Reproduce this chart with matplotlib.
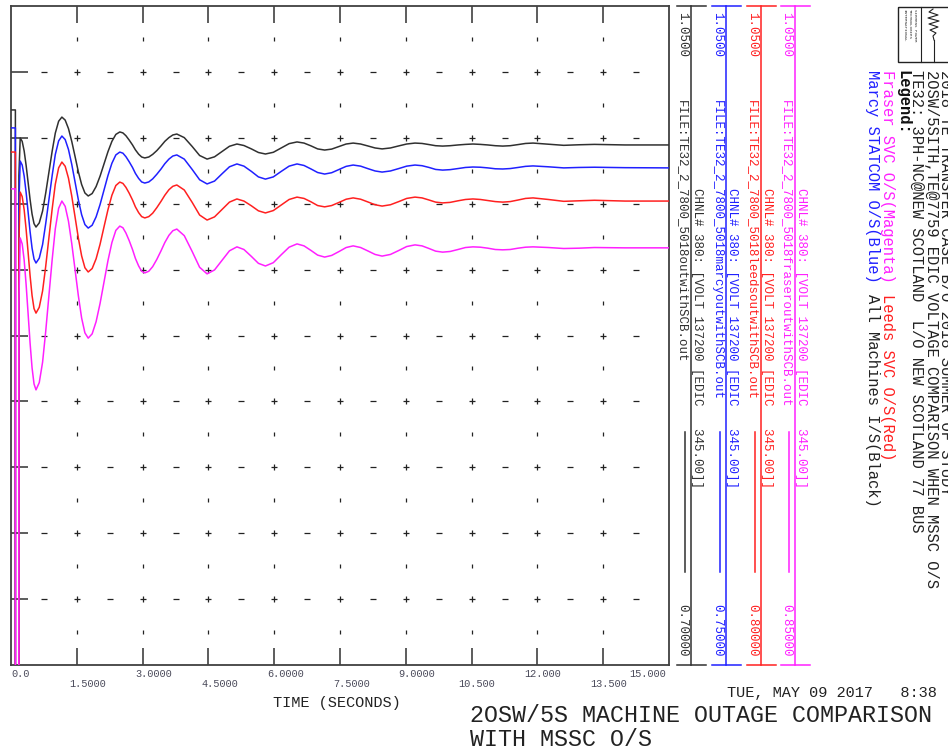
import matplotlib
matplotlib.use("Agg")
import matplotlib.pyplot as plt
import numpy as np

plt.rcParams['font.family'] = ['Liberation Mono', 'DejaVu Sans Mono']

# --- channel data (VOLT 137200 [EDIC 345.00], pu) ---
time_s = [0.0, 0.1, 0.1, 0.175, 0.18,
          0.21, 0.255, 0.30, 0.345, 0.39, 0.435, 0.48, 0.525,
          0.57, 0.644, 0.72, 0.791, 0.865, 0.939, 1.01, 1.086,
          1.16, 1.235, 1.31, 1.385, 1.46, 1.535, 1.61, 1.685,
          1.76, 1.85, 1.94, 2.03, 2.12, 2.21, 2.30, 2.39,
          2.48, 2.551, 2.62, 2.694, 2.77, 2.836, 2.91, 2.979,
          3.05, 3.141, 3.23, 3.324, 3.42, 3.506, 3.60, 3.689,
          3.78, 3.95, 4.13, 4.30,
          4.47, 4.64, 4.81, 4.98,
          5.15, 5.31, 5.48, 5.64,
          5.80, 5.98, 6.16, 6.34,
          6.52, 6.68, 6.84, 6.99,
          7.15, 7.31, 7.48, 7.64,
          7.80, 7.97, 8.13, 8.30,
          8.46, 8.65, 8.84, 9.02,
          9.21, 9.37, 9.53, 9.68,
          9.84, 10.01, 10.19, 10.36,
          10.53, 10.70, 10.87, 11.04,
          11.21, 11.38, 11.56, 11.73,
          11.90, 12.25, 12.6, 12.95, 13.3, 14.0, 15.0]

volt_all_is = [0.9948, 0.9948, 0.50, 0.50, 0.960,
               0.9799, 0.9781, 0.9730, 0.9653, 0.9563, 0.9472, 0.9395, 0.9344,
               0.9326, 0.9348, 0.9411, 0.9506, 0.9618, 0.9730, 0.9825, 0.9888,
               0.9910, 0.9894, 0.9849, 0.9781, 0.9701, 0.9620, 0.9552, 0.9507,
               0.9491, 0.9504, 0.9541, 0.9596, 0.9661, 0.9726, 0.9781, 0.9818,
               0.9831, 0.9826, 0.9811, 0.9788, 0.9762, 0.9736, 0.9713, 0.9698,
               0.9693, 0.9698, 0.9712, 0.9732, 0.9757, 0.9781, 0.9801, 0.9815,
               0.9820, 0.9801, 0.9754, 0.9706,
               0.9687, 0.9699, 0.9727, 0.9755,
               0.9767, 0.9759, 0.9741, 0.9722,
               0.9714, 0.9723, 0.9746, 0.9769,
               0.9778, 0.9772, 0.9757, 0.9741,
               0.9735, 0.9740, 0.9754, 0.9767,
               0.9772, 0.9767, 0.9757, 0.9746,
               0.9741, 0.9746, 0.9757, 0.9767,
               0.9772, 0.9770, 0.9764, 0.9758,
               0.9756, 0.9758, 0.9762, 0.9765,
               0.9767, 0.9765, 0.9762, 0.9758,
               0.9756, 0.9758, 0.9764, 0.9770,
               0.9772, 0.9766, 0.9760, 0.9763, 0.9765, 0.9762, 0.9762]

volt_marcy_os = [0.9945, 0.9945, 0.50, 0.50, 0.960,
                 0.9794, 0.9776, 0.9726, 0.9651, 0.9562, 0.9473, 0.9398, 0.9348,
                 0.9330, 0.9352, 0.9414, 0.9509, 0.9619, 0.9729, 0.9824, 0.9886,
                 0.9908, 0.9892, 0.9847, 0.9779, 0.9699, 0.9618, 0.9550, 0.9505,
                 0.9489, 0.9502, 0.9540, 0.9596, 0.9662, 0.9728, 0.9784, 0.9822,
                 0.9835, 0.9830, 0.9814, 0.9791, 0.9765, 0.9738, 0.9715, 0.9699,
                 0.9694, 0.9699, 0.9713, 0.9734, 0.9758, 0.9782, 0.9803, 0.9817,
                 0.9822, 0.9803, 0.9756, 0.9709,
                 0.9690, 0.9703, 0.9736, 0.9768,
                 0.9781, 0.9771, 0.9747, 0.9722,
                 0.9712, 0.9722, 0.9747, 0.9771,
                 0.9781, 0.9774, 0.9758, 0.9742,
                 0.9735, 0.9741, 0.9756, 0.9770,
                 0.9776, 0.9771, 0.9760, 0.9749,
                 0.9744, 0.9749, 0.9760, 0.9771,
                 0.9776, 0.9773, 0.9765, 0.9756,
                 0.9753, 0.9755, 0.9760, 0.9765,
                 0.9767, 0.9766, 0.9763, 0.9759,
                 0.9758, 0.9760, 0.9765, 0.9770,
                 0.9772, 0.9768, 0.9763, 0.9765, 0.9766, 0.9764, 0.9763]

volt_leeds_os = [0.9946, 0.9946, 0.50, 0.50, 0.960,
                 0.9794, 0.9777, 0.9727, 0.9652, 0.9565, 0.9477, 0.9402, 0.9352,
                 0.9335, 0.9357, 0.9419, 0.9512, 0.9622, 0.9731, 0.9824, 0.9886,
                 0.9908, 0.9892, 0.9847, 0.9779, 0.9700, 0.9620, 0.9552, 0.9507,
                 0.9491, 0.9504, 0.9541, 0.9596, 0.9662, 0.9727, 0.9782, 0.9819,
                 0.9832, 0.9827, 0.9812, 0.9790, 0.9764, 0.9738, 0.9716, 0.9701,
                 0.9696, 0.9701, 0.9714, 0.9735, 0.9759, 0.9782, 0.9803, 0.9816,
                 0.9821, 0.9802, 0.9755, 0.9707,
                 0.9688, 0.9700, 0.9728, 0.9756,
                 0.9768, 0.9760, 0.9742, 0.9723,
                 0.9715, 0.9724, 0.9745, 0.9766,
                 0.9775, 0.9770, 0.9757, 0.9743,
                 0.9738, 0.9743, 0.9755, 0.9767,
                 0.9772, 0.9767, 0.9757, 0.9746,
                 0.9741, 0.9746, 0.9758, 0.9770,
                 0.9775, 0.9772, 0.9764, 0.9756,
                 0.9753, 0.9755, 0.9761, 0.9766,
                 0.9768, 0.9766, 0.9762, 0.9758,
                 0.9756, 0.9758, 0.9764, 0.9770,
                 0.9772, 0.9766, 0.9759, 0.9761, 0.9763, 0.9760, 0.9760]

volt_fraser_os = [0.9945, 0.9945, 0.50, 0.50, 0.960,
                  0.9796, 0.9778, 0.9729, 0.9654, 0.9566, 0.9477, 0.9402, 0.9353,
                  0.9335, 0.9357, 0.9419, 0.9512, 0.9622, 0.9731, 0.9824, 0.9886,
                  0.9908, 0.9892, 0.9847, 0.9779, 0.9700, 0.9621, 0.9553, 0.9508,
                  0.9492, 0.9505, 0.9542, 0.9597, 0.9662, 0.9727, 0.9782, 0.9819,
                  0.9832, 0.9827, 0.9811, 0.9788, 0.9761, 0.9734, 0.9711, 0.9695,
                  0.9690, 0.9695, 0.9709, 0.9731, 0.9757, 0.9782, 0.9804, 0.9818,
                  0.9823, 0.9803, 0.9755, 0.9707,
                  0.9687, 0.9699, 0.9728, 0.9757,
                  0.9769, 0.9761, 0.9740, 0.9719,
                  0.9711, 0.9721, 0.9745, 0.9768,
                  0.9778, 0.9772, 0.9758, 0.9744,
                  0.9738, 0.9743, 0.9755, 0.9767,
                  0.9772, 0.9767, 0.9757, 0.9746,
                  0.9741, 0.9746, 0.9758, 0.9770,
                  0.9775, 0.9772, 0.9764, 0.9756,
                  0.9753, 0.9755, 0.9761, 0.9767,
                  0.9769, 0.9768, 0.9765, 0.9761,
                  0.9760, 0.9761, 0.9765, 0.9768,
                  0.9769, 0.9767, 0.9764, 0.9765, 0.9767, 0.9766, 0.9766]

scale_top = 1.05
scale_bottoms = [0.70, 0.75, 0.80, 0.85]
top_labels = ['1.0500', '1.0500', '1.0500', '1.0500']
bottom_labels = ['0.70000', '0.75000', '0.80000', '0.85000']
file_names = ['FILE:TE32_2_7800_5018outwithSCB.out',
              'FILE:TE32_2_7800_5018marcyoutwithSCB.out',
              'FILE:TE32_2_7800_5018leedsoutwithSCB.out',
              'FILE:TE32_2_7800_5018fraseroutwithSCB.out']
chnl_label = 'CHNL# 380: [VOLT 137200 [EDIC   345.00]]'
series = [volt_all_is, volt_marcy_os, volt_leeds_os, volt_fraser_os]
colors = ['#303030', '#2020ff', '#ff2020', '#ff20ff']

x_tick_labels = ['0.0', '1.5000', '3.0000', '4.5000', '6.0000', '7.5000',
                 '9.0000', '10.500', '12.000', '13.500', '15.000']

W, H = 948, 750
fig = plt.figure(figsize=(W / 100, H / 100), dpi=100)

# plot box in pixels
L, R, T, B = 11, 669, 6, 665
ax = fig.add_axes([L / W, 1 - B / H, (R - L) / W, (B - T) / H])
ax.set_xlim(0, 15)
ax.set_ylim(scale_bottoms[0], scale_top)
for s in ax.spines.values():
    s.set_color('#404040')
    s.set_linewidth(1.3)

step = (scale_top - scale_bottoms[0]) / 10
rows = [scale_bottoms[0] + step * k for k in range(1, 10)]
half_rows = [scale_bottoms[0] + step * (k + 0.5) for k in range(10)]
cols = [1.5 * i for i in range(1, 10)]
half_cols = [0.75 + 1.5 * i for i in range(10)]

ax.set_xticks(cols)
ax.set_yticks(rows)
ax.tick_params(direction='in', length=12.2, width=1.1, colors='#303030',
               top=True, right=True, labelbottom=False, labelleft=False)

# dotted grid of + - | marks
gx, gy = np.meshgrid(cols, rows)
ax.plot(gx.ravel(), gy.ravel(), ls='none', marker='+', ms=4, mew=0.9, color='#222222')
gx, gy = np.meshgrid(half_cols, rows)
ax.plot(gx.ravel(), gy.ravel(), ls='none', marker='_', ms=4, mew=0.9, color='#222222')
gx, gy = np.meshgrid(cols, half_rows)
ax.plot(gx.ravel(), gy.ravel(), ls='none', marker='|', ms=3, mew=0.9, color='#222222')

# each channel on its own scale
for vals, bot, col in zip(series, scale_bottoms, colors):
    a = ax.twinx()
    a.set_ylim(bot, scale_top)
    a.set_xlim(0, 15)
    a.axis('off')
    a.plot(time_s, vals, color=col, lw=1.1)

# x tick labels, staggered, decimal point on the tick
cw = 6.17
for i, (t, lab) in enumerate(zip(np.arange(0, 15.01, 1.5), x_tick_labels)):
    px = L + t / 15 * (R - L)
    left = px - lab.index('.') * cw - 1
    left = max(left, L)
    if left + len(lab) * cw > R:
        left = R - len(lab) * cw - 3
    dy = -9 if i % 2 == 0 else -19
    ax.annotate(lab, xy=(0, 0), xycoords='axes fraction',
                xytext=(left - L, dy), textcoords='offset pixels',
                ha='left', va='center', fontsize=7.4, color='#4a4a5a',
                annotation_clip=False)

# overlay in pixel coordinates for the side panel and titles
side = fig.add_axes([0, 0, 1, 1])
side.set_xlim(0, W)
side.set_ylim(H, 0)
side.axis('off')


def vtext(x, y, s, end=False, **kw):
    side.text(x, y, s, rotation=-90, rotation_mode='anchor',
              ha='right' if end else 'left', va='center', **kw)


bar_x = [691, 726, 761, 795]
for k, bx in enumerate(bar_x):
    col = colors[k]
    side.plot([bx, bx], [T, B], color=col, lw=1.1)
    side.plot([bx - 14, bx + 15], [T, T], color=col, lw=1.1)
    side.plot([bx - 14, bx + 15], [B, B], color=col, lw=1.1)
    side.plot([bx - 6, bx - 6], [432, 572], color=col, lw=1.1)
    vtext(bx - 9, 12, top_labels[k], fontsize=9, color=col)
    vtext(bx - 9, 100, file_names[k], fontsize=9, color=col)
    vtext(bx + 6, 188, chnl_label, fontsize=9, color=col)
    vtext(bx - 9, 657, bottom_labels[k], end=True, fontsize=9, color=col)

# header block
hdr_fs = 11.2
hcw = hdr_fs * 100 / 72 * 0.6
vtext(946, 70, '2018 TE TRANSFER CASE B/O 2018 SUMMER OF STUDY', fontsize=hdr_fs, color='#222222')
vtext(932, 70, '2OSW/5SITH,TE@7759 EDIC VOLTAGE COMPARISON WHEN MSSC O/S', fontsize=hdr_fs, color='#222222')
vtext(917, 70, 'TE32: 3PH-NC@NEW SCOTLAND  L/O NEW SCOTLAND 77 BUS', fontsize=hdr_fs, color='#222222')
vtext(903, 70, 'Legend:', fontsize=hdr_fs, color='#111111', fontweight='bold')
seg1 = 'Fraser SVC O/S(Magenta) '
vtext(888, 70, seg1, fontsize=hdr_fs, color=colors[3])
vtext(888, 70 + len(seg1) * hcw, 'Leeds SVC O/S(Red)', fontsize=hdr_fs, color=colors[2])
seg2 = 'Marcy STATCOM O/S(Blue) '
vtext(873, 70, seg2, fontsize=hdr_fs, color=colors[1])
vtext(873, 70 + len(seg2) * hcw, 'All Machines I/S(Black)', fontsize=hdr_fs, color='#222222')

# logo box
side.add_patch(plt.Rectangle((898, 7), 70, 55, fill=False, ec='#222222', lw=1.0))
side.plot([921, 921], [7, 62], color='#222222', lw=0.8)
for j, s in enumerate(['SIEMENS POWER', 'TECHNOLOGIES', 'INTERNATIONAL']):
    vtext(915 - j * 5, 9, s, fontsize=3.0, color='#333333')
wave_y = [9, 12, 15, 18, 21, 24, 27, 30, 33, 36, 40]
wave_x = [933, 929, 938, 928, 939, 929, 938, 930, 936, 933, 934]
side.plot(wave_x, wave_y, color='#222222', lw=0.8)
side.plot([934, 934], [40, 62], color='#222222', lw=0.8)

# footer
side.text(337, 703, 'TIME (SECONDS)', ha='center', va='center', fontsize=11, color='#222222')
side.text(727, 693, 'TUE, MAY 09 2017   8:38', ha='left', va='center', fontsize=11, color='#222222')
side.text(470, 716, '2OSW/5S MACHINE OUTAGE COMPARISON', ha='left', va='center', fontsize=16.8, color='#222222')
side.text(470, 740, 'WITH MSSC O/S', ha='left', va='center', fontsize=16.8, color='#222222')

fig.savefig('out.png', dpi=100)
